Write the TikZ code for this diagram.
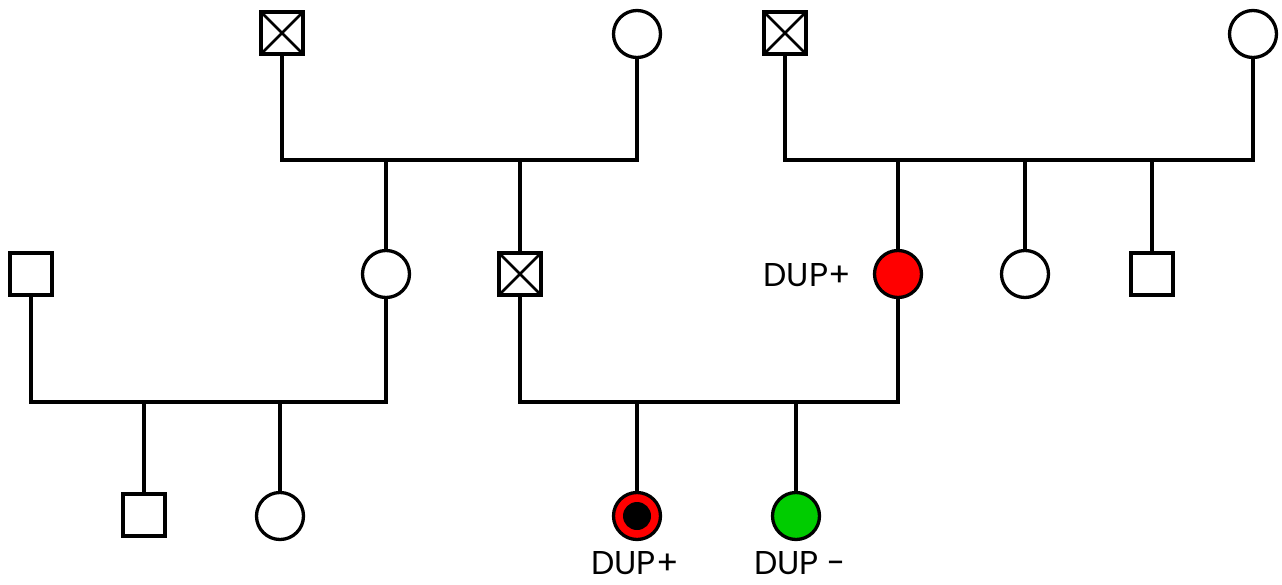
\documentclass[tikz,border=0pt]{standalone}
\usepackage{fontspec}
\setmainfont{Poppins}
\definecolor{dupred}{RGB}{255,0,0}
\definecolor{dupgreen}{RGB}{0,204,0}
\tikzset{
  sq/.style={draw, rectangle, minimum size=42pt, inner sep=0pt, line width=3.3pt, fill=white},
  xsq/.style={sq, path picture={\draw[line width=2.6pt] (path picture bounding box.north west) -- (path picture bounding box.south east) (path picture bounding box.north east) -- (path picture bounding box.south west);}},
  ci/.style={draw, circle, minimum size=47pt, inner sep=0pt, line width=3.3pt, fill=white},
  lnk/.style={line width=3.3pt},
  lbl/.style={font=\fontsize{33}{36}\selectfont, inner sep=0pt, anchor=base}
}
\begin{document}
\begin{tikzpicture}[x=1pt,y=-1pt]
\useasboundingbox (0,0) rectangle (1282,584);
% row 1
\node[xsq] (g1) at (282,33) {};
\node[ci]  (g2) at (637,34) {};
\node[xsq] (g3) at (785,33) {};
\node[ci]  (g4) at (1253,34) {};
% row 2
\node[sq]  (p1) at (31,274) {};
\node[ci]  (p2) at (386,274) {};
\node[xsq] (p3) at (520,274) {};
\node[ci, fill=dupred] (p4) at (898,274) {};
\node[ci]  (p5) at (1025,274) {};
\node[sq]  (p6) at (1152,274) {};
% row 3
\node[sq]  (c1) at (144,515) {};
\node[ci]  (c2) at (280,516) {};
\node[ci, fill=dupred] (c3) at (637,516) {};
\node[circle, fill=black, minimum size=28pt, inner sep=0pt] (c3in) at (c3) {};
\node[ci, fill=dupgreen] (c4) at (796,516) {};
% sibship coordinates
\coordinate (m1) at (0,160);
\coordinate (m2) at (0,160);
\coordinate (m3) at (0,402);
\coordinate (m4) at (0,402);
% couple lines
\draw[lnk] (g1.south) |- (m1 -| g2.south) -- (g2.south);
\draw[lnk] (g3.south) |- (m2 -| g4.south) -- (g4.south);
\draw[lnk] (p1.south) |- (m3 -| p2.south) -- (p2.south);
\draw[lnk] (p3.south) |- (m4 -| p4.south) -- (p4.south);
% children drops
\draw[lnk] (p2.north) -- (p2.north |- m1);
\draw[lnk] (p3.north) -- (p3.north |- m1);
\draw[lnk] (p4.north) -- (p4.north |- m2);
\draw[lnk] (p5.north) -- (p5.north |- m2);
\draw[lnk] (p6.north) -- (p6.north |- m2);
\draw[lnk] (c1.north) -- (c1.north |- m3);
\draw[lnk] (c2.north) -- (c2.north |- m3);
\draw[lnk] (c3.north) -- (c3.north |- m4);
\draw[lnk] (c4.north) -- (c4.north |- m4);
% labels
\node[lbl, anchor=base east] (l1) at (851,286) {DUP+};
\node[lbl] (l2) at (635,574) {DUP+};
\node[lbl] (l3) at (800,574) {DUP -};
\end{tikzpicture}
\end{document}
